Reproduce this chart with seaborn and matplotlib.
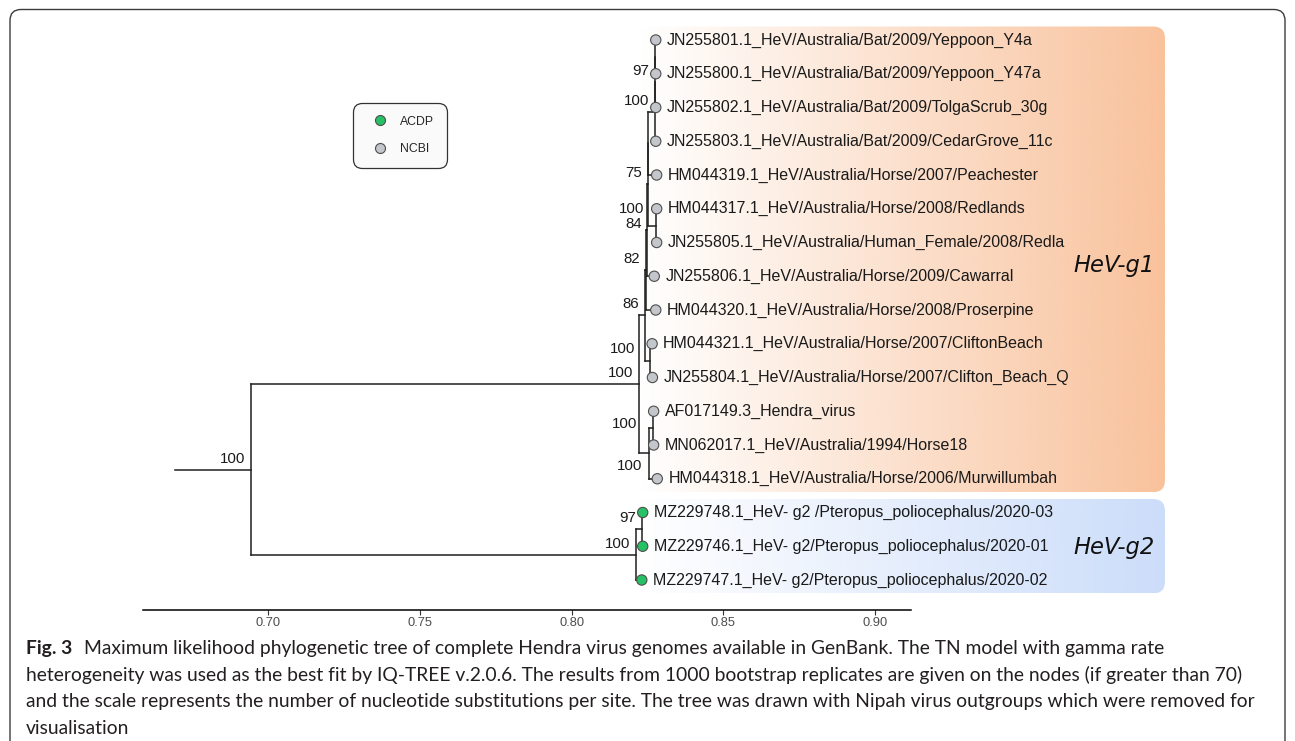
import numpy as np
import pandas as pd
import matplotlib
matplotlib.use("Agg")
import matplotlib.pyplot as plt
import matplotlib.colors as mcolors
import seaborn as sns
from matplotlib.patches import FancyBboxPatch
from matplotlib.lines import Line2D

# tips, listed top to bottom
tip_labels = [
    "JN255801.1_HeV/Australia/Bat/2009/Yeppoon_Y4a",
    "JN255800.1_HeV/Australia/Bat/2009/Yeppoon_Y47a",
    "JN255802.1_HeV/Australia/Bat/2009/TolgaScrub_30g",
    "JN255803.1_HeV/Australia/Bat/2009/CedarGrove_11c",
    "HM044319.1_HeV/Australia/Horse/2007/Peachester",
    "HM044317.1_HeV/Australia/Horse/2008/Redlands",
    "JN255805.1_HeV/Australia/Human_Female/2008/Redla",
    "JN255806.1_HeV/Australia/Horse/2009/Cawarral",
    "HM044320.1_HeV/Australia/Horse/2008/Proserpine",
    "HM044321.1_HeV/Australia/Horse/2007/CliftonBeach",
    "JN255804.1_HeV/Australia/Horse/2007/Clifton_Beach_Q",
    "AF017149.3_Hendra_virus",
    "MN062017.1_HeV/Australia/1994/Horse18",
    "HM044318.1_HeV/Australia/Horse/2006/Murwillumbah",
    "MZ229748.1_HeV- g2 /Pteropus_poliocephalus/2020-03",
    "MZ229746.1_HeV- g2/Pteropus_poliocephalus/2020-01",
    "MZ229747.1_HeV- g2/Pteropus_poliocephalus/2020-02",
]
tip_x = [0.8277, 0.8277, 0.8277, 0.8277, 0.8280, 0.8280, 0.8280, 0.8272, 0.8277,
         0.8265, 0.8266, 0.8270, 0.8270, 0.8282, 0.8234, 0.8234, 0.8231]
tip_source = ["NCBI"] * 14 + ["ACDP"] * 3

# internal nodes (children, x position, bootstrap support)
node_names = ["a1", "a2", "a3", "c1", "c2", "p67", "c3", "c4", "c5", "p1011",
              "g1", "d1", "d2", "e1", "g2", "root"]
node_children = [("t1", "t2"), ("a1", "t3"), ("a2", "t4"), ("a3", "t5"), ("c1", "p67"),
                 ("t6", "t7"), ("c2", "t8"), ("c3", "t9"), ("c4", "p1011"), ("t10", "t11"),
                 ("c5", "d2"), ("t12", "t13"), ("d1", "t14"), ("t15", "t16"), ("e1", "t17"),
                 ("g1", "g2")]
node_x = [0.8276, 0.8276, 0.8275, 0.8251, 0.8250, 0.8278, 0.8248, 0.8246, 0.8241, 0.8258,
          0.8222, 0.8268, 0.8256, 0.8232, 0.8212, 0.6944]
node_support = [None, 97, 100, None, 75, 100, 84, 82, 86, 100, 100, 100, 100, 97, 100, 100]
root_edge_start = 0.6694

clade_names = ["HeV-g1", "HeV-g2"]
clade_nodes = ["g1", "g2"]
clade_colors = ["#F9C29C", "#CCDDFA"]

source_order = ["ACDP", "NCBI"]
source_colors = {"ACDP": "#27C165", "NCBI": "#C3C6CA"}

tick_values = [0.70, 0.75, 0.80, 0.85, 0.90]

caption_lines = [
    "Maximum likelihood phylogenetic tree of complete Hendra virus genomes available in GenBank. The TN model with gamma rate",
    "heterogeneity was used as the best fit by IQ-TREE v.2.0.6. The results from 1000 bootstrap replicates are given on the nodes (if greater than 70)",
    "and the scale represents the number of nucleotide substitutions per site. The tree was drawn with Nipah virus outgroups which were removed for",
    "visualisation",
]

# label nudges in pixels (default left/up of node)
default_nudge = (-6, 11)
label_nudge = {"p67": (-12, 17), "p1011": (-15, 12), "d1": (-16, 4), "d2": (-7, -13), "c3": (-5, 6)}
clade_nudge = [-6, -1]

W, H = 1295, 741
sns.set_theme(style="white")
plt.rcParams["font.family"] = ["Liberation Sans", "DejaVu Sans"]

fig = plt.figure(figsize=(W / 100, H / 100), dpi=100)
fig.patch.set_facecolor("white")
ax = fig.add_axes([143 / W, (H - 609.6) / H, (1180 - 143) / W, (609.6 - 20) / H])
ax.patch.set_alpha(0)

# ---- layout of the tree (ggtree style: y of a node = mean of its children) ----
n_tip = len(tip_labels)
pos = {f"t{i + 1}": (tip_x[i], float(n_tip - i)) for i in range(n_tip)}
children = dict(zip(node_names, node_children))
xs = dict(zip(node_names, node_x))


def place(name):
    if name in pos:
        return pos[name]
    ys = [place(c)[1] for c in children[name]]
    pos[name] = (xs[name], float(np.mean(ys)))
    return pos[name]


def tips_under(name):
    if name not in children:
        return [name]
    out = []
    for c in children[name]:
        out += tips_under(c)
    return out


for nm in node_names:
    place(nm)

# ---- clade highlight boxes with gradient ----
box_right = 0.9954
pad = 0.4
x_round = 12 / 3036.5
y_round = 12 / 33.75
for cname, cnode, ccol, cnudge in zip(clade_names, clade_nodes, clade_colors, clade_nudge):
    ys = [pos[t][1] for t in tips_under(cnode)]
    x0, x1 = pos[cnode][0], box_right
    y0, y1 = min(ys) - pad, max(ys) + pad
    img = np.zeros((1, 256, 4))
    img[..., :3] = mcolors.to_rgb(ccol)
    img[..., 3] = np.linspace(0, 1, 256)
    im = ax.imshow(img, extent=[x0, x1, y0, y1], aspect="auto", origin="lower",
                   interpolation="bilinear", zorder=0)
    clip = FancyBboxPatch((x0, y0), x1 - x0, y1 - y0,
                          boxstyle=f"round,pad=0,rounding_size={x_round}",
                          mutation_aspect=y_round / x_round,
                          facecolor="none", edgecolor="none", transform=ax.transData)
    ax.add_patch(clip)
    im.set_clip_path(clip)
    ax.annotate(cname, (x1, np.mean(ys)), xytext=(-10, cnudge), textcoords="offset pixels",
                ha="right", va="center", fontsize=16.3, style="italic",
                family="DejaVu Sans", color="#111111", zorder=5)

# ---- edges ----
segs = []
for nm in node_names:
    x, y = pos[nm]
    cys = [pos[c][1] for c in children[nm]]
    segs.append(([x, x], [min(cys), max(cys)]))
    for c in children[nm]:
        cx, cy = pos[c]
        segs.append(([x, cx], [cy, cy]))
rx, ry = pos["root"]
segs.append(([root_edge_start, rx], [ry, ry]))
for sx, sy in segs:
    ax.plot(sx, sy, color="#1f1f1f", lw=1.1, solid_capstyle="projecting", zorder=2)

# ---- tip points ----
tips_df = pd.DataFrame({
    "x": tip_x,
    "y": [pos[f"t{i + 1}"][1] for i in range(n_tip)],
    "source": tip_source,
    "label": tip_labels,
})
sns.scatterplot(data=tips_df, x="x", y="y", hue="source", hue_order=source_order,
                palette=source_colors, s=55, edgecolor="#4d4d4d", linewidth=0.8,
                legend=False, ax=ax, zorder=4)

for _, r in tips_df.iterrows():
    ax.annotate(r["label"], (r["x"], r["y"]), xytext=(11, 0), textcoords="offset pixels",
                ha="left", va="center", fontsize=11.5, color="#1a1a1a", zorder=5)

# ---- bootstrap labels ----
for nm, sup in zip(node_names, node_support):
    if sup is None:
        continue
    dx, dy = label_nudge.get(nm, default_nudge)
    ax.annotate(str(sup), pos[nm], xytext=(dx, dy), textcoords="offset pixels",
                ha="right", va="center", fontsize=10.8, color="#1a1a1a", zorder=5)

# ---- axes ----
x_left = 0.70 - (268 - 143) / 3036.5
ax.set_xlim(x_left, x_left + (1180 - 143) / 3036.5)
ax.set_ylim(1 - (609.6 - 580) / 33.75, 17 + 20 / 33.75)
ax.set_xlabel("")
ax.set_ylabel("")
for s in ["left", "top", "right"]:
    ax.spines[s].set_visible(False)
ax.spines["bottom"].set_bounds(x_left, 0.70 + (911 - 268) / 3036.5)
ax.spines["bottom"].set_color("black")
ax.spines["bottom"].set_linewidth(1.1)
ax.set_xticks(tick_values)
ax.set_xticklabels([f"{v:.2f}" for v in tick_values])
ax.tick_params(axis="x", bottom=True, direction="out", length=3.5, width=0.8,
               color="#333333", labelsize=9.3, labelcolor="#4D4D4D", pad=2)
ax.tick_params(axis="y", left=False, labelleft=False)

# ---- legend ----
handles = [Line2D([], [], ls="none", marker="o", markersize=7.2,
                  markerfacecolor=source_colors[s], markeredgecolor="#4d4d4d",
                  markeredgewidth=0.8, label=s) for s in source_order]
leg = ax.legend(handles=handles, loc="upper left", bbox_to_anchor=(353 / W, 1 - 103 / H),
                bbox_transform=fig.transFigure, frameon=True, fancybox=True, framealpha=1,
                facecolor="#FAFAFA", edgecolor="#333333", prop={"family": "Liberation Sans", "size": 8.8},
                borderpad=1.03, labelspacing=1.27, handlelength=2.3, handletextpad=0.55,
                borderaxespad=0)
leg.get_frame().set_linewidth(0.9)
leg.get_frame().set_boxstyle("round", pad=0, rounding_size=0.75)

# ---- outer frame ----
frame = FancyBboxPatch((10 / W, -0.05), (1285 - 10) / W, (1 - 9.5 / H) + 0.05,
                       boxstyle="round,pad=0,rounding_size=0.0085", mutation_aspect=W / H,
                       transform=fig.transFigure, facecolor="none", edgecolor="#3c3c3c", lw=1.0)
fig.add_artist(frame)

# ---- caption ----
renderer = fig.canvas.get_renderer()
probe = fig.text(0, 0, caption_lines[2], fontsize=10, family="Lato")
cap_size = 10 * (1259 - 26) / probe.get_window_extent(renderer).width
probe.remove()

cap_y = [647.4, 673.4, 700.4, 726.8]
fig_lbl = fig.text(26 / W, 1 - cap_y[0] / H, "Fig. 3", fontsize=cap_size, family="Lato",
                   weight="bold", va="center_baseline", ha="left", color="#231F20")
x_after = fig_lbl.get_window_extent(renderer).x1 + 12
fig.text(x_after / W, 1 - cap_y[0] / H, caption_lines[0], fontsize=cap_size, family="Lato",
         va="center_baseline", ha="left", color="#231F20")
for line, yy in zip(caption_lines[1:], cap_y[1:]):
    fig.text(26 / W, 1 - yy / H, line, fontsize=cap_size, family="Lato",
             va="center_baseline", ha="left", color="#231F20")

fig.savefig("out.png", dpi=100)
